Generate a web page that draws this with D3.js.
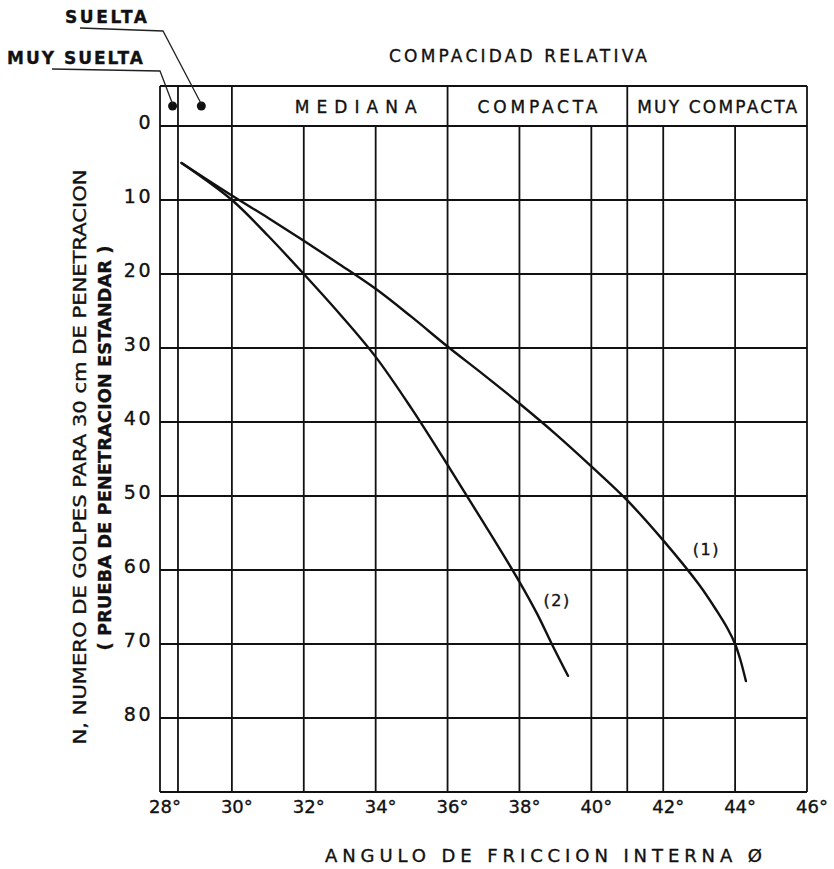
<!DOCTYPE html>
<html lang="es">
<head>
<meta charset="UTF-8">
<title>Compacidad relativa - angulo de friccion</title>
<style>
  body { margin: 0; background: #fff; }
  svg { display: block; }
  text { font-family: 'DejaVu Sans', sans-serif; fill: #111; stroke: #111; stroke-width: 0.35; }
  .grid { stroke: #111; stroke-width: 1.8; fill: none; }
  .curve { stroke: #111; stroke-width: 2.4; fill: none; stroke-linecap: round; }
  .leader { stroke: #222; stroke-width: 1.3; fill: none; }
</style>
</head>
<body>
<svg id="chart" width="834" height="869"></svg>
<script src="https://d3js.org/d3.v7.min.js"></script>
<script>
// ---- data ----
const xTicks = [28, 30, 32, 34, 36, 38, 40, 42, 44, 46];
const xGrid = [28.5, 30, 32, 34, 36, 38, 40, 41, 42, 44];
const yTicks = [0, 10, 20, 30, 40, 50, 60, 70, 80];
const classBounds = [28, 28.5, 30, 36, 41, 46];
const classNames = ["M E D I A N A", "COMPACTA", "MUY COMPACTA"];
const classDots = [28.35, 29.15]; // muy suelta, suelta

// curve (1)  [angle, N]
const curve1 = [
  [28.6, 5], [30, 9.4], [31, 12.4], [32, 15.5], [33, 18.7], [34, 22],
  [35, 25.8], [36, 29.8], [37, 33.6], [38, 37.5], [39, 41.6], [40, 46],
  [41, 50.6], [42, 56], [43, 62], [43.5, 65.6], [43.8, 68], [44, 70],
  [44.15, 72.2], [44.3, 75]
];
// curve (2)  [angle, N]
const curve2 = [
  [28.6, 5], [30, 10], [31, 14.8], [32, 20], [33, 25.4], [34, 31.2],
  [35, 38.2], [36, 45.8], [37, 53.6], [38, 61.6], [38.5, 66], [38.9, 70],
  [39.35, 74.3]
];
const curveNames = ["(1)", "(2)"];
const curveLabelAt = [[43.2, 58], [39.05, 64.8]];

// ---- scales ----
const svg = d3.select("#chart");
const x = d3.scaleLinear().domain([28, 46]).range([160, 807]);
const y = d3.scaleLinear().domain([0, 90]).range([126, 792]);
const headTop = y(0) - 40;

// vertical grid in body
svg.append("g").selectAll("line")
  .data(xGrid).enter().append("line")
  .attr("class", "grid")
  .attr("x1", d => x(d)).attr("x2", d => x(d))
  .attr("y1", y(0)).attr("y2", y(90));

// horizontal grid
svg.append("g").selectAll("line")
  .data(yTicks).enter().append("line")
  .attr("class", "grid")
  .attr("x1", x(28)).attr("x2", x(46))
  .attr("y1", d => y(d)).attr("y2", d => y(d));

// header row (compacidad classes)
svg.append("line").attr("class", "grid")
  .attr("x1", x(28)).attr("x2", x(46)).attr("y1", headTop).attr("y2", headTop);
svg.append("g").selectAll("line")
  .data(classBounds).enter().append("line")
  .attr("class", "grid")
  .attr("x1", d => x(d)).attr("x2", d => x(d))
  .attr("y1", headTop)
  .attr("y2", (d, i) => (i === 0 || i === classBounds.length - 1) ? y(90) : y(0));

// bottom edge
svg.append("line").attr("class", "grid")
  .attr("x1", x(28)).attr("x2", x(46)).attr("y1", y(90)).attr("y2", y(90));

// class names
const hdrWidths = [122, 120, 160];
svg.append("g").selectAll("text")
  .data(classNames).enter().append("text")
  .attr("x", (d, i) => (x(classBounds[i + 2]) + x(classBounds[i + 3])) / 2 + (i === 0 ? 16 : 0))
  .attr("y", headTop + 27)
  .attr("text-anchor", "middle")
  .attr("font-size", 17)
  .attr("textLength", (d, i) => hdrWidths[i])
  .attr("lengthAdjust", "spacing")
  .text(d => d);

// dots for muy suelta / suelta
svg.append("g").selectAll("circle")
  .data(classDots).enter().append("circle")
  .attr("cx", d => x(d)).attr("cy", headTop + 20)
  .attr("r", 4.5).attr("fill", "#111");

// leader lines
svg.append("path").attr("class", "leader")
  .attr("d", `M52,69 L160,71 L${x(classDots[0])},${headTop + 18}`);
svg.append("path").attr("class", "leader")
  .attr("d", `M80,28 L163,31 L${x(classDots[1])},${headTop + 18}`);

svg.append("text").attr("x", 65).attr("y", 23)
  .attr("font-size", 17).attr("font-weight", "bold")
  .attr("textLength", 82).attr("lengthAdjust", "spacing")
  .text("SUELTA");
svg.append("text").attr("x", 7).attr("y", 64)
  .attr("font-size", 17).attr("font-weight", "bold")
  .attr("textLength", 136).attr("lengthAdjust", "spacing")
  .text("MUY SUELTA");

svg.append("text").attr("x", 518).attr("y", 62)
  .attr("text-anchor", "middle").attr("font-size", 17)
  .attr("textLength", 258).attr("lengthAdjust", "spacing")
  .text("COMPACIDAD RELATIVA");

// curves
const line = d3.line()
  .x(d => x(d[0])).y(d => y(d[1]))
  .curve(d3.curveCatmullRom.alpha(0.5));

svg.append("g").selectAll("path")
  .data([curve1, curve2]).enter().append("path")
  .attr("class", "curve")
  .attr("d", line);

svg.append("g").selectAll("text")
  .data(curveNames).enter().append("text")
  .attr("x", (d, i) => x(curveLabelAt[i][0]))
  .attr("y", (d, i) => y(curveLabelAt[i][1]))
  .attr("text-anchor", "middle")
  .attr("font-size", 16)
  .attr("letter-spacing", 1.5)
  .text(d => d);

// y tick labels
svg.append("g").selectAll("text")
  .data(yTicks).enter().append("text")
  .attr("x", 153)
  .attr("y", d => y(d) + 3)
  .attr("text-anchor", "end")
  .attr("font-size", 19)
  .attr("letter-spacing", 2.5)
  .text(d => d);

// x tick labels
svg.append("g").selectAll("text")
  .data(xTicks).enter().append("text")
  .attr("x", d => x(d) + 5)
  .attr("y", y(90) + 21)
  .attr("text-anchor", "middle")
  .attr("font-size", 18)
  .text(d => d + "°");

svg.append("text").attr("x", 325).attr("y", 862)
  .attr("font-size", 18)
  .attr("textLength", 437).attr("lengthAdjust", "spacing")
  .text("ANGULO  DE  FRICCION  INTERNA  Ø");

// y axis title, two rotated lines
svg.append("text")
  .attr("transform", "translate(86,457) rotate(-90)")
  .attr("text-anchor", "middle")
  .attr("font-size", 18)
  .attr("textLength", 575).attr("lengthAdjust", "spacingAndGlyphs")
  .text("N, NUMERO DE GOLPES PARA 30 cm DE PENETRACION");
svg.append("text")
  .attr("transform", "translate(111,448) rotate(-90)")
  .attr("text-anchor", "middle")
  .attr("font-size", 18).attr("font-weight", "bold")
  .style("font-family", "'DejaVu Sans Condensed', 'DejaVu Sans', sans-serif")
  .attr("textLength", 405).attr("lengthAdjust", "spacingAndGlyphs")
  .text("( PRUEBA DE PENETRACION ESTANDAR )");
</script>
</body>
</html>
